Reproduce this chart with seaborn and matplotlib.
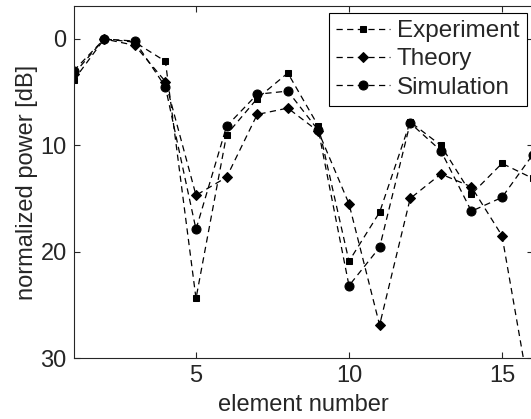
import numpy as np
import pandas as pd
import seaborn as sns
import matplotlib
matplotlib.use("Agg")
import matplotlib.pyplot as plt

element = list(range(1, 17))
experiment = [3.9, 0.0, 0.3, 2.1, 24.4, 9.0, 5.6, 3.2, 8.2, 20.9, 16.3, 7.8, 10.0, 14.6, 11.7, 13.1]
theory = [3.3, 0.0, 0.6, 4.0, 14.7, 13.0, 7.1, 6.5, 8.7, 15.5, 26.9, 15.0, 12.7, 13.9, 18.5, 35.0]
simulation = [3.0, 0.0, 0.2, 4.5, 17.9, 8.2, 5.2, 4.9, 8.6, 23.2, 19.6, 7.9, 10.5, 16.2, 14.9, 10.9]

series = {"Experiment": (experiment, "s", 5),
          "Theory": (theory, "D", 5.5),
          "Simulation": (simulation, "o", 6.5)}

sns.set_style("ticks")
plt.rcParams["font.family"] = ["Liberation Sans", "DejaVu Sans"]
plt.rcParams["font.size"] = 17

fig = plt.figure(figsize=(5.31, 4.19), dpi=100)
ax = fig.add_axes([73.6 / 531, 61 / 419, 459 / 531, 352 / 419])

for name, (vals, marker, ms) in series.items():
    df = pd.DataFrame({"element": element, "power": vals})
    sns.lineplot(data=df, x="element", y="power", ax=ax, color="k",
                 linestyle=(0, (5, 3.5)), linewidth=0.9, marker=marker,
                 markersize=ms, markeredgecolor="k", label=name)

ax.set_xlim(1, 16)
ax.set_ylim(30, -3.1)
ax.set_xticks([5, 10, 15])
ax.set_yticks([0, 10, 20, 30])
ax.tick_params(direction="in", top=True, right=True, length=4, width=0.8,
               labelsize=17, pad=5)
for s in ax.spines.values():
    s.set_linewidth(0.8)
ax.set_xlabel("element number", fontsize=17, labelpad=5)
ax.set_ylabel("normalized power [dB]", fontsize=17, labelpad=2)

leg = ax.legend(loc="upper right", bbox_to_anchor=(0.987, 0.98),
                borderaxespad=0, fancybox=False, framealpha=1,
                edgecolor="k", fontsize=17.5, handlelength=2.2,
                handletextpad=0.3, labelspacing=0.25, borderpad=0.3)
leg.get_frame().set_linewidth(0.8)

fig.savefig("out.png", dpi=100)
